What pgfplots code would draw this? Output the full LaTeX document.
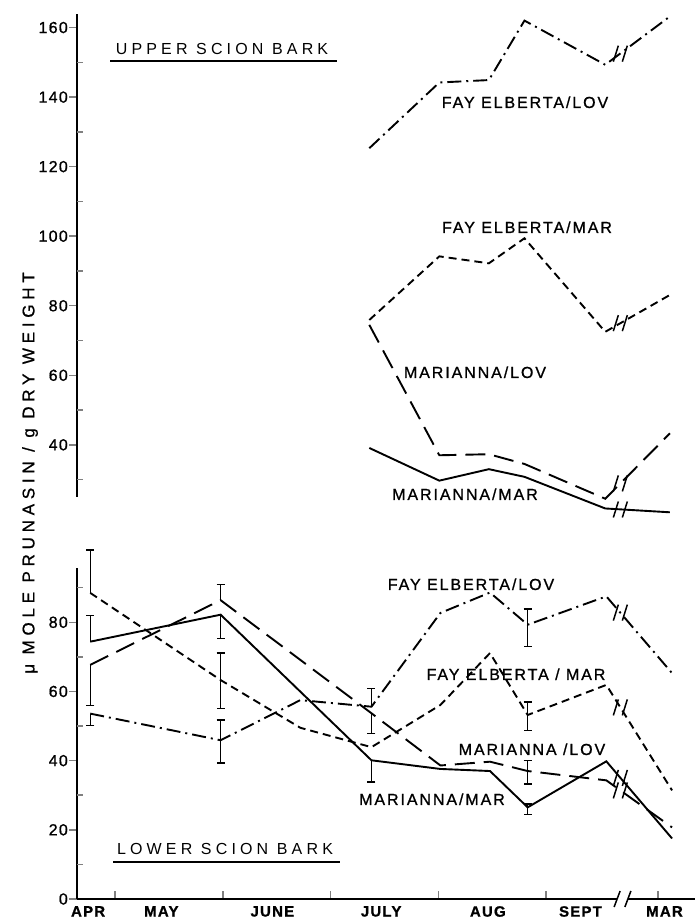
\documentclass[border=0pt]{standalone}
\usepackage{fontspec}
\setmainfont{Liberation Sans}
\newfontfamily\labfont[LetterSpace=12, FakeBold=1]{Liberation Sans}
\newfontfamily\titfont[LetterSpace=26]{Liberation Sans}
\newfontfamily\tickfont[LetterSpace=8, FakeBold=1]{Liberation Sans}
\newfontfamily\ylabfont[LetterSpace=28, FakeBold=0.8]{Liberation Sans}
\usepackage{pgfplots}
\pgfplotsset{compat=1.18}

\newcommand{\LAB}{\labfont\fontsize{16bp}{18bp}\selectfont}
\newcommand{\TIT}{\titfont\fontsize{16bp}{18bp}\selectfont}
\newcommand{\TCK}{\tickfont\fontsize{16bp}{18bp}\selectfont}
\newcommand{\brk}[2]{%
  \draw[line width=1.5bp] ([xshift=-7bp,yshift=-8bp]axis cs:#1,#2) -- ++(5bp,16bp);
  \draw[line width=1.5bp] ([xshift=2bp,yshift=-8bp]axis cs:#1,#2) -- ++(5bp,16bp);}

\pgfplotsset{
  common/.style={
    scale only axis, width=618bp,
    xmin=0.647, xmax=6.383,
    /pgf/number format/assume math mode=true,
    yticklabel style={font=\TCK, inner xsep=1bp},
    major tick style={line width=1.5bp},
    major tick length=8bp,
    extra y tick labels={},
    extra y tick style={ytick align=inside, major tick length=6bp},
  },
  sdash/.style={line width=1.9bp, dash pattern=on 8bp off 5bp},
  ldash/.style={line width=1.9bp, dash pattern=on 20bp off 9bp},
  ddot/.style={line width=1.9bp, dash pattern=on 14bp off 5bp on 2bp off 5bp},
  solidl/.style={line width=1.9bp},
  ebar/.style={draw=none, mark=none, forget plot, error bars/.cd, y explicit, y dir=#1,
    error bar style={line width=1.4bp, black},
    error mark options={rotate=90, line width=1.4bp, mark size=4bp, black}},
}

\begin{document}
\begin{tikzpicture}
\path (0bp,0bp) rectangle (695bp,922bp);

% ---------- upper panel ----------
\begin{axis}[common,
  at={(77bp,425bp)}, anchor=south west, height=483bp,
  ymin=25, ymax=163.9, clip=false,
  axis x line=none, axis y line=left,
  axis line style={-, line width=2bp},
  ytick align=outside,
  ytick={40,60,...,160},
  extra y ticks={30,50,...,150},
]
\addplot[ddot, black] coordinates {(3.36,125.3) (4.01,144.2) (4.47,144.9) (4.80,162.0) (5.55,149.3) (6.15,163.2)};
\addplot[sdash, black] coordinates {(3.36,75.9) (4.01,94.2) (4.47,92.2) (4.80,99.4) (5.55,72.5) (6.15,83.1)};
\addplot[ldash, black] coordinates {(3.36,74.5) (4.01,37.0) (4.47,37.3) (4.80,34.5) (5.55,24.5) (6.15,43.3)};
\addplot[solidl, black] coordinates {(3.36,39.1) (4.01,29.7) (4.47,33.0) (4.80,30.8) (5.55,21.7) (6.15,20.6)};
\brk{5.69}{152.5}
\brk{5.69}{75.0}
\brk{5.69}{28.9}
\brk{5.69}{21.4}
\end{axis}

% ---------- lower panel ----------
\begin{axis}[common,
  at={(77bp,23bp)}, anchor=south west, height=331bp,
  ymin=0, ymax=95.7, clip=false,
  axis x line=bottom, axis y line=left,
  axis line style={-, line width=2bp},
  ytick align=outside, xtick align=inside,
  ytick={0,20,...,80},
  extra y ticks={10,30,...,90},
  xtick={1,2,3,4,5,6.04}, xticklabels={,,,,,},
  extra x ticks={0.75,1.43,2.46,3.47,4.46,5.32,6.10},
  extra x tick labels={APR,MAY,JUNE,JULY,AUG,SEPT,MAR},
  extra x tick style={major tick length=0pt, xticklabel style={font=\tickfont\bfseries\fontsize{15bp}{17bp}\selectfont, inner ysep=1bp, yshift=-6bp}},
]
\addplot[ddot, black] coordinates {(0.77,53.6) (1.98,45.9) (2.72,57.5) (3.38,55.6) (4.02,82.7) (4.48,88.6) (4.83,79.3) (5.56,87.5) (6.17,65.3)};
\addplot[sdash, black] coordinates {(0.77,88.5) (1.98,63.3) (2.72,49.5) (3.38,43.9) (4.02,56.1) (4.48,71.1) (4.83,53.2) (5.56,61.9) (6.17,31.4)};
\addplot[ldash, black] coordinates {(0.77,67.7) (1.98,86.4) (3.38,53.7) (4.02,38.6) (4.48,39.7) (4.83,37.0) (5.56,34.3) (6.17,20.7)};
\addplot[solidl, black] coordinates {(0.77,74.4) (1.98,82.2) (3.38,40.1) (4.02,37.6) (4.48,37.0) (4.83,26.5) (5.56,39.8) (6.17,17.5)};
% error bars
\addplot[ebar=plus]
  coordinates {(0.77,88.5) +- (0,12.4) (0.77,74.4) +- (0,7.6) (1.98,86.4) +- (0,4.5) (3.38,55.6) +- (0,5.3)};
\addplot[ebar=minus]
  coordinates {(0.77,67.7) +- (0,11.7) (0.77,53.6) +- (0,3.4) (1.98,82.2) +- (0,6.8) (3.38,53.7) +- (0,5.9) (3.38,40.1) +- (0,6.3)};
\addplot[ebar=both]
  coordinates {(1.98,63.3) += (0,7.8) -= (0,8.2) (1.98,45.9) += (0,5.8) -= (0,6.6)
               (4.83,79.3) += (0,4.6) -= (0,6.3) (4.83,53.2) += (0,3.8) -= (0,4.4)
               (4.83,37.0) += (0,3.1) -= (0,3.7) (4.83,26.5) += (0,1.0) -= (0,2.0)};
\brk{5.69}{82.8}
\brk{5.69}{55.4}
\brk{5.69}{31.4}
\brk{5.69}{35.0}
\coordinate (b1) at (axis cs:5.66,0);
\coordinate (b2) at (axis cs:5.76,0);
\end{axis}
\fill[white] ([yshift=-2bp]b1) rectangle ([yshift=2bp]b2);
\draw[line width=1.5bp] ([xshift=-3bp,yshift=-8bp]b1) -- ++(6bp,16bp);
\draw[line width=1.5bp] ([xshift=-3bp,yshift=-8bp]b2) -- ++(6bp,16bp);

% ---------- text ----------
\node[anchor=base, inner sep=0] at (222bp,867bp) {\TIT UPPER SCION BARK};
\draw[line width=1.9bp] (110bp,861bp) -- (337bp,861bp);
\node[anchor=base, inner sep=0] at (225bp,67bp) {\TIT LOWER SCION BARK};
\draw[line width=1.9bp] (113bp,60bp) -- (340bp,60bp);

\node[anchor=base, inner sep=0] at (525bp,814bp) {\LAB FAY ELBERTA/LOV};
\node[anchor=base, inner sep=0] at (527bp,689bp) {\LAB FAY ELBERTA/MAR};
\node[anchor=base, inner sep=0] at (475bp,544bp) {\LAB MARIANNA/LOV};
\node[anchor=base, inner sep=0] at (465bp,422bp) {\LAB MARIANNA/MAR};

\node[anchor=base, inner sep=0] at (471bp,332bp) {\LAB FAY ELBERTA/LOV};
\node[anchor=base, inner sep=0] at (516bp,242bp) {\LAB FAY ELBERTA / MAR};
\node[anchor=base, inner sep=0] at (532bp,167bp) {\LAB MARIANNA /LOV};
\node[anchor=base, inner sep=0] at (432bp,117bp) {\LAB MARIANNA/MAR};

\node[rotate=90, inner sep=0] at (30bp,449bp) {\ylabfont\fontsize{17bp}{19bp}\selectfont μ MOLE PRUNASIN / g DRY WEIGHT};
\end{tikzpicture}
\end{document}
